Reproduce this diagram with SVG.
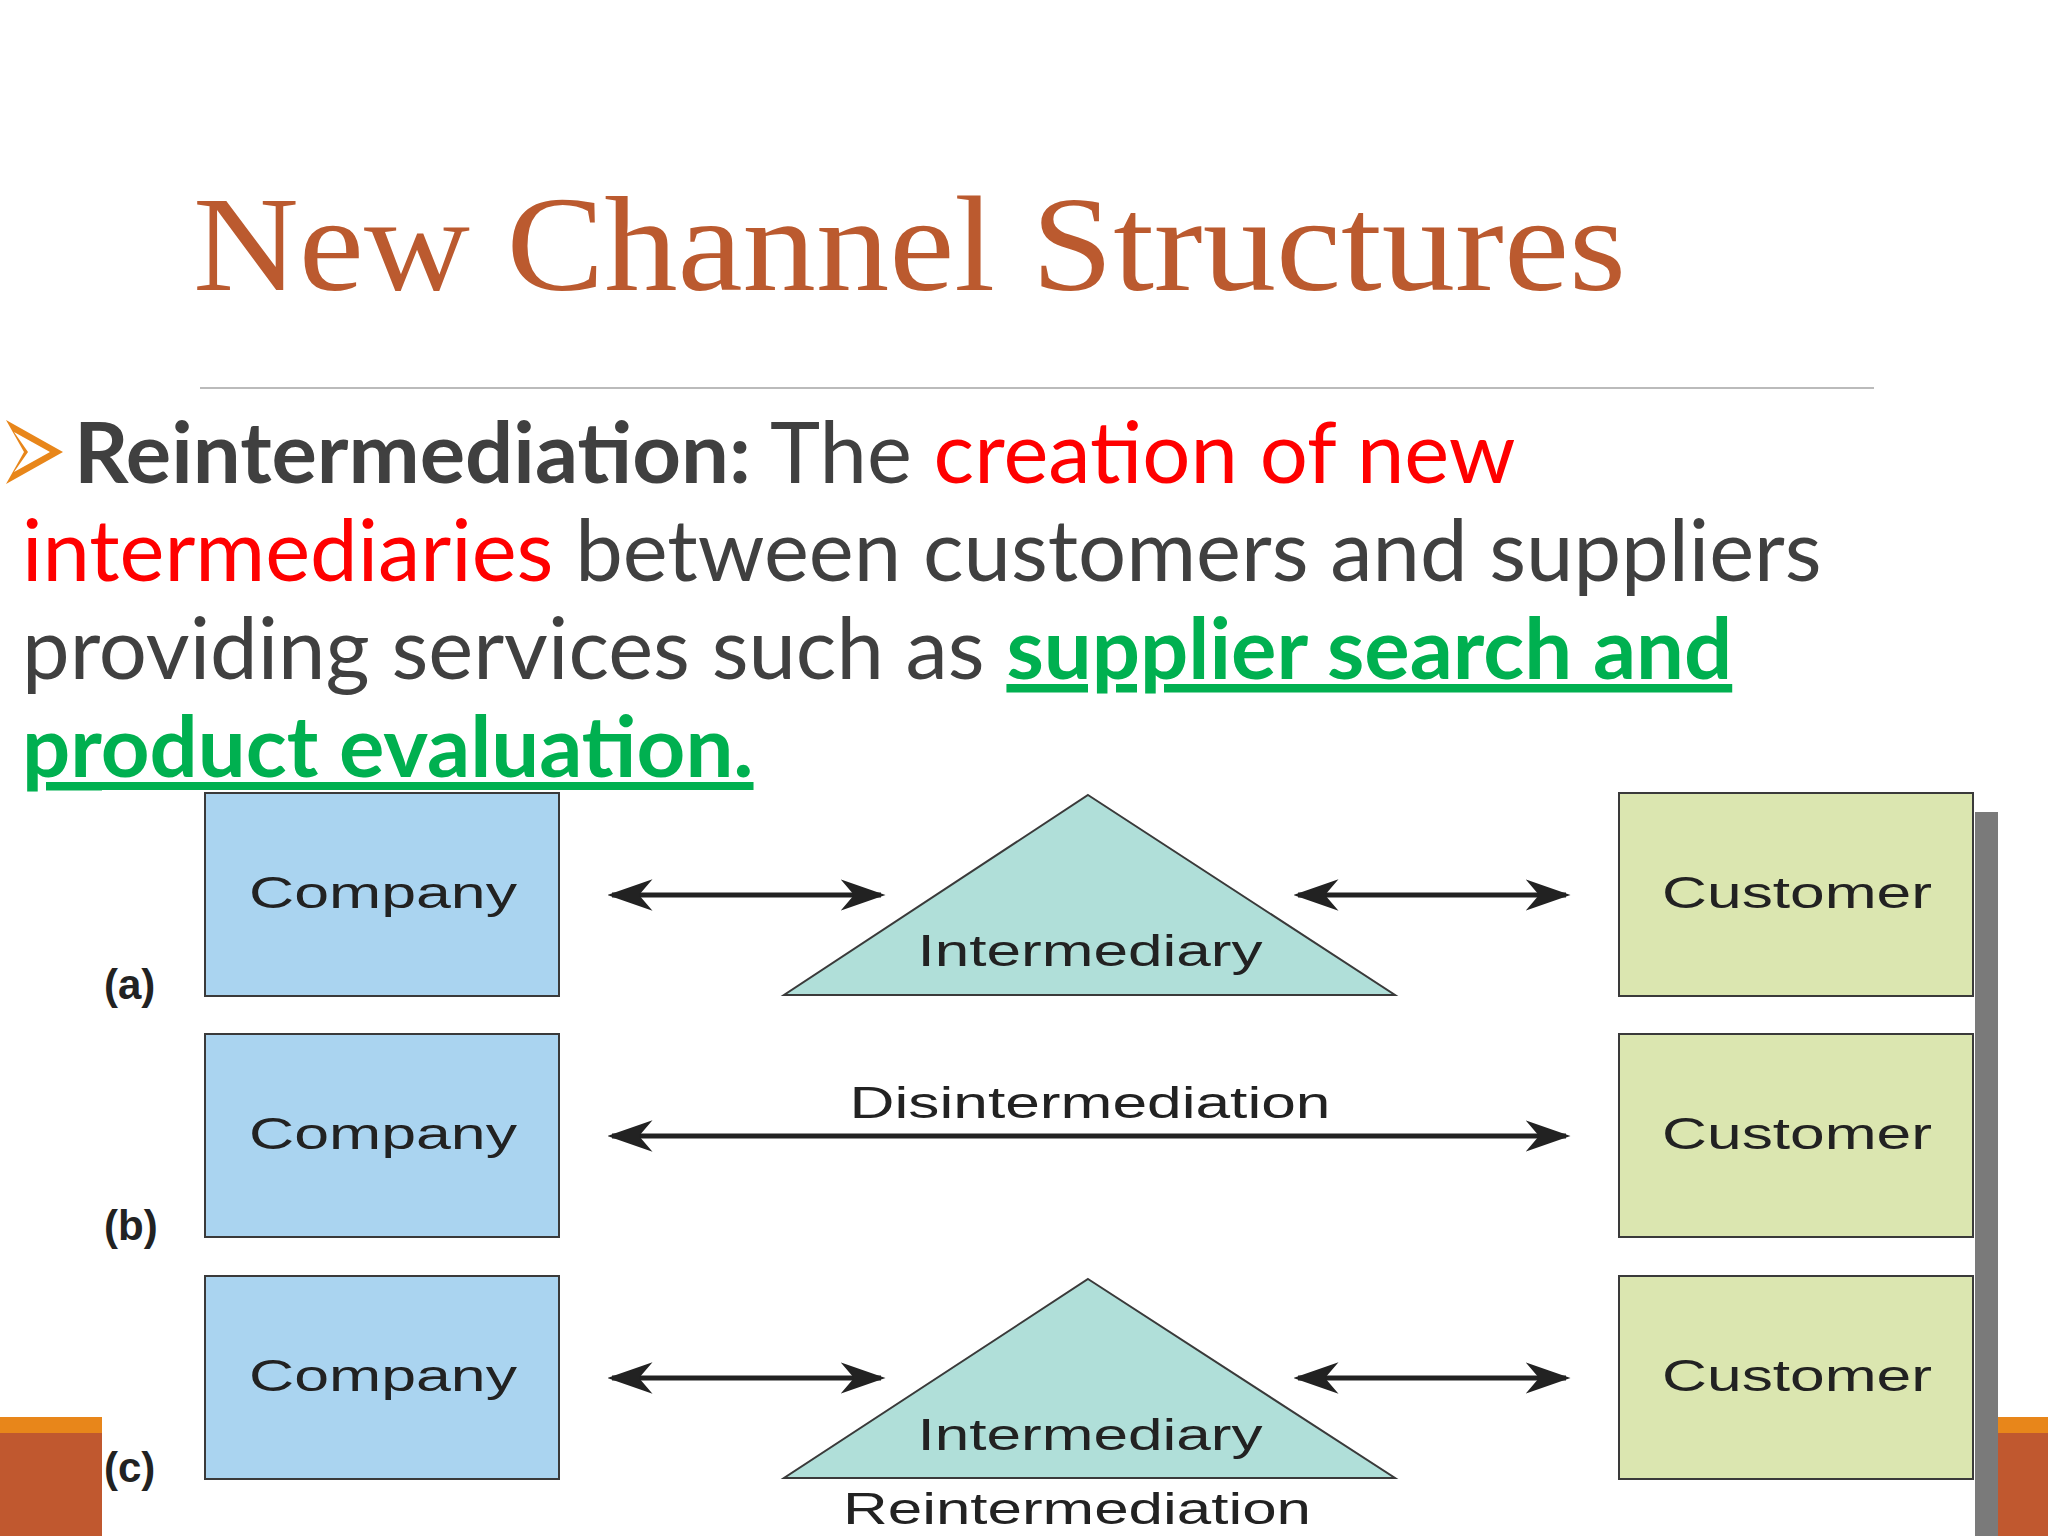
<svg xmlns="http://www.w3.org/2000/svg" width="2048" height="1536" viewBox="0 0 2048 1536">
<defs>
<style>
.co{fill:#aad4f0;stroke:#3a3a3a;stroke-width:2}
.cu{fill:#dbe6b0;stroke:#3a3a3a;stroke-width:2}
.tr{fill:#b0dfd9;stroke:#3a3a3a;stroke-width:2}
.lbl{font-family:"Liberation Sans",Arial,sans-serif;font-size:44px;fill:#222;text-anchor:middle}
.rl{font-family:"Liberation Sans",Arial,sans-serif;font-size:42px;font-weight:bold;fill:#222}
.ar{stroke:#222;stroke-width:5;fill:none;marker-start:url(#ah);marker-end:url(#ah)}
.bt{font-family:Lato,"Liberation Sans",sans-serif;font-size:85px;fill:#404040}
.gr{fill:#00b050;font-weight:bold;text-decoration:underline}
</style>
<marker id="ah" viewBox="0 0 20 14" refX="18" refY="7" markerWidth="9" markerHeight="6.3" orient="auto-start-reverse" markerUnits="strokeWidth">
<path d="M0,0 L20,7 L0,14 L6,7 Z" fill="#222"/>
</marker>
</defs>
<rect width="2048" height="1536" fill="#fff"/>
<g id="band">
<rect x="0" y="1417" width="2048" height="119" fill="#c0582f"/>
<rect x="0" y="1417" width="2048" height="16" fill="#e8861a"/>
</g>
<g id="title">
<text x="193" y="290" font-family="Georgia,'Liberation Serif',serif" font-size="136" fill="#bb5a2f" textLength="1433" lengthAdjust="spacingAndGlyphs">New Channel Structures</text>
<line x1="200" y1="388" x2="1874" y2="388" stroke="#bbbbbb" stroke-width="2"/>
</g>
<g id="bullet">
<path d="M6,420 L63,452 L6,484 L24,452 Z M14,432 L50,452 L14,472 L28,452 Z" fill="#e8861a" fill-rule="evenodd"/>
<text class="bt" x="74" y="483"><tspan font-weight="bold">Reintermediation:</tspan> The <tspan fill="#ff0000">creation of new</tspan></text>
<text class="bt" x="22" y="581"><tspan fill="#ff0000">intermediaries</tspan> between customers and suppliers</text>
<text class="bt" x="22" y="679">providing services such as <tspan class="gr">supplier search and</tspan></text>
<text class="bt gr" x="22" y="777">product evaluation.</text>
</g>
<g id="panel">
<rect x="1975" y="812" width="23" height="724" fill="#7a7a7a"/>
<rect x="102" y="790" width="1873" height="746" fill="#fff"/>
</g>
<g id="labels">
<text class="rl" x="104" y="999">(a)</text>
<text class="rl" x="104" y="1240">(b)</text>
<text class="rl" x="104" y="1482">(c)</text>
</g>
<g id="company-a"><rect class="co" x="205" y="793" width="354" height="203"/><text class="lbl" x="383" y="908" textLength="268" lengthAdjust="spacingAndGlyphs">Company</text></g>
<g id="company-b"><rect class="co" x="205" y="1034" width="354" height="203"/><text class="lbl" x="383" y="1149" textLength="268" lengthAdjust="spacingAndGlyphs">Company</text></g>
<g id="company-c"><rect class="co" x="205" y="1276" width="354" height="203"/><text class="lbl" x="383" y="1391" textLength="268" lengthAdjust="spacingAndGlyphs">Company</text></g>
<g id="customer-a"><rect class="cu" x="1619" y="793" width="354" height="203"/><text class="lbl" x="1797" y="908" textLength="270" lengthAdjust="spacingAndGlyphs">Customer</text></g>
<g id="customer-b"><rect class="cu" x="1619" y="1034" width="354" height="203"/><text class="lbl" x="1797" y="1149" textLength="270" lengthAdjust="spacingAndGlyphs">Customer</text></g>
<g id="customer-c"><rect class="cu" x="1619" y="1276" width="354" height="203"/><text class="lbl" x="1797" y="1391" textLength="270" lengthAdjust="spacingAndGlyphs">Customer</text></g>
<g id="intermediary-a"><polygon class="tr" points="1088,795 1395,995 784,995"/><text class="lbl" x="1090" y="966" textLength="345" lengthAdjust="spacingAndGlyphs">Intermediary</text></g>
<g id="intermediary-c"><polygon class="tr" points="1088,1279 1395,1478 784,1478"/><text class="lbl" x="1090" y="1450" textLength="345" lengthAdjust="spacingAndGlyphs">Intermediary</text></g>
<g id="connectors">
<line class="ar" x1="612" y1="895" x2="881" y2="895"/>
<line class="ar" x1="1298" y1="895" x2="1566" y2="895"/>
<line class="ar" x1="612" y1="1136" x2="1566" y2="1136"/>
<line class="ar" x1="612" y1="1378" x2="881" y2="1378"/>
<line class="ar" x1="1298" y1="1378" x2="1566" y2="1378"/>
<text class="lbl" x="1090" y="1118" textLength="481" lengthAdjust="spacingAndGlyphs">Disintermediation</text>
<text class="lbl" x="1077" y="1524" textLength="468" lengthAdjust="spacingAndGlyphs">Reintermediation</text>
</g>
</svg>
